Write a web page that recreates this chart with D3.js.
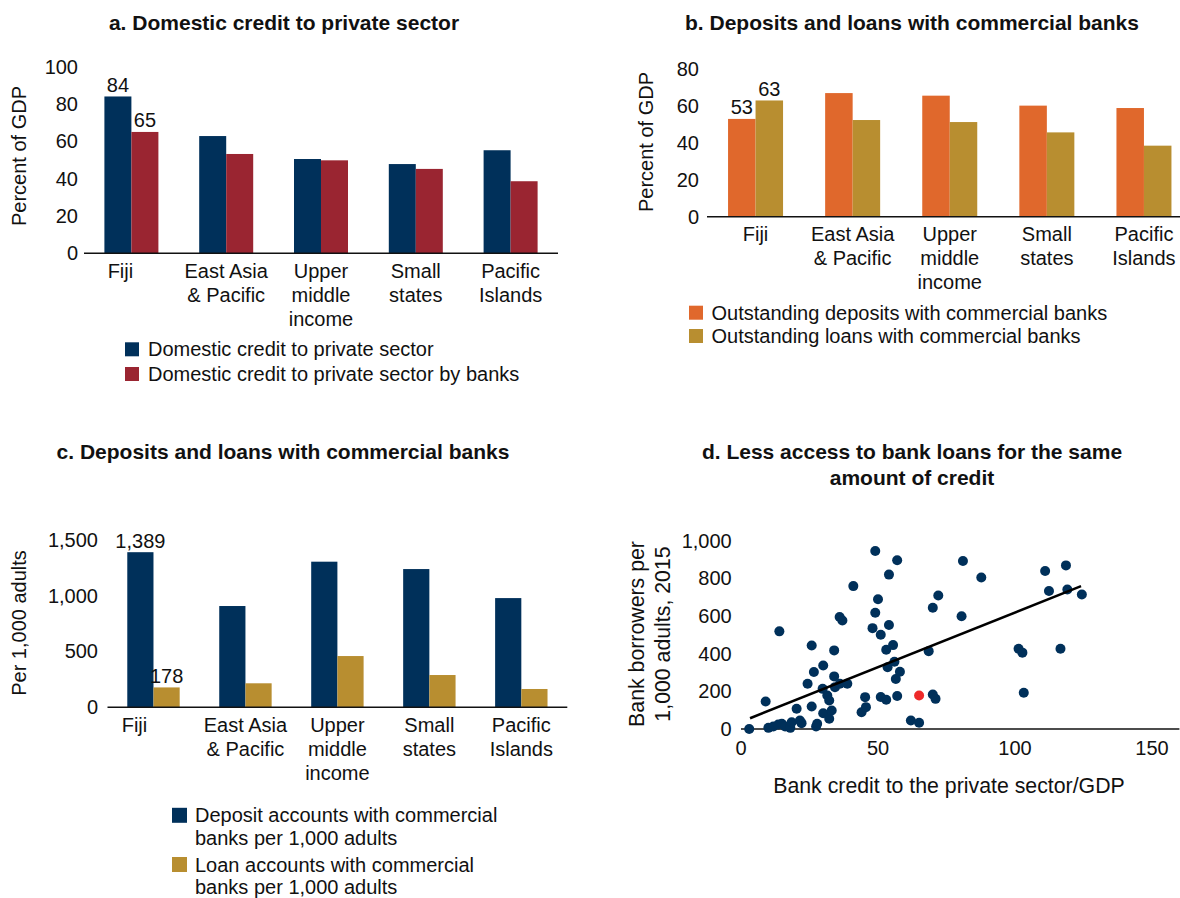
<!DOCTYPE html>
<html>
<head>
<meta charset="utf-8">
<script src="https://cdn.jsdelivr.net/npm/d3@7"></script>
<style>
  html, body { margin: 0; padding: 0; background: #fff; }
  svg { display: block; font-family: "Liberation Sans", Arial, Helvetica, sans-serif; }
</style>
</head>
<body>
<svg id="chart" width="1180" height="898"></svg>
<script>
// ---------------- DATA ----------------
const categoryLines = [["Fiji"], ["East Asia", "& Pacific"], ["Upper", "middle", "income"], ["Small", "states"], ["Pacific", "Islands"]];

// Panel a
const creditPrivate = [84, 62.8, 50.5, 47.8, 55.2];
const creditPrivateBanks = [65, 53.2, 49.8, 45.2, 38.6];
const ticksA = [0, 20, 40, 60, 80, 100];
const legendA = ["Domestic credit to private sector", "Domestic credit to private sector by banks"];

// Panel b
const depositsGDP = [53, 67, 65.6, 60.2, 58.9];
const loansGDP = [63, 52.4, 51.3, 45.7, 38.5];
const ticksB = [0, 20, 40, 60, 80];
const legendB = ["Outstanding deposits with commercial banks", "Outstanding loans with commercial banks"];

// Panel c
const depositAccounts = [1389, 907, 1304, 1238, 978];
const loanAccounts = [178, 215, 459, 289, 164];
const ticksC = [0, 500, 1000, 1500];
const legendC = [["Deposit accounts with commercial", "banks per 1,000 adults"], ["Loan accounts with commercial", "banks per 1,000 adults"]];

// Panel d
const scatterX = [3, 9, 10, 11.8, 13.6, 14.9, 16.1, 18, 18.5, 21.5, 22.1, 27.4, 27.8, 14, 20.3, 25.8, 24.3, 25.8, 26.6, 30,
  29.8, 31.5, 32.2, 30, 32.2, 33.1, 34, 34, 34.3, 36.1, 38.8, 36, 37, 41, 44, 45.6, 45.3, 48, 49, 49,
  50, 51, 51, 53, 53, 54, 54, 53.5, 55.5, 56, 57, 56.5, 58, 57, 62, 65, 68.5, 70, 70, 71,
  72, 80.5, 81, 87.7, 101.3, 102.7, 103.2, 111, 112.4, 116.6, 118.6, 119.1, 124.4];
const scatterY = [0, 146, 6, 13, 24, 28, 13, 6, 36, 45, 31, 13, 28, 518, 107, 119, 240, 443, 302, 337,
  213, 178, 151, 84, 54, 98, 279, 417, 222, 240, 240, 594, 576, 758, 89, 116, 169, 535, 617, 944,
  688, 500, 170, 155, 420, 819, 552, 328, 445, 357, 895, 265, 304, 175, 45, 33, 413, 643, 183, 160,
  708, 598, 891, 804, 426, 405, 192, 838, 732, 426, 868, 740, 714];
const fijiPoint = [65, 178];
const trendSlope = 5.8;
const trendIntercept = 38;
const trendRange = [3.3, 124.1];
const ticksDx = [0, 50, 100, 150];
const ticksDy = [0, 200, 400, 600, 800, 1000];

// ---------------- STYLE ----------------
const NAVY = "#00305a";
const RED = "#9a2531";
const ORANGE = "#e0682c";
const GOLD = "#b88e30";
const DOTRED = "#ee2a2a";
const FS = 20;
const TFS = 21;
const DFS = 21.3;

const svg = d3.select("#chart");
svg.append("rect").attr("width", 1180).attr("height", 898).attr("fill", "#fff");

function title(lines, cx, y0) {
  lines.forEach((t, i) => {
    svg.append("text").attr("x", cx).attr("y", y0 + i * 26)
      .attr("text-anchor", "middle").attr("dominant-baseline", "central")
      .attr("font-weight", "bold").attr("font-size", TFS).attr("fill", "#111").text(t);
  });
}

function barPanel(o) {
  const g = svg.append("g");
  const x = d3.scaleBand().domain(d3.range(categoryLines.length)).range(o.xRange);
  const y = d3.scaleLinear().domain([0, o.max]).range([o.yZero, o.yTop]);
  // y tick labels
  g.selectAll(".yt").data(o.ticks).join("text")
    .attr("x", o.xRange[0] - o.tickGap).attr("y", d => y(d))
    .attr("text-anchor", "end").attr("dominant-baseline", "central")
    .attr("font-size", FS).attr("fill", "#111").text(d => d3.format(",")(d));
  // bars
  o.series.forEach((s, si) => {
    g.selectAll(".b" + si).data(s).join("rect")
      .attr("x", (d, i) => x(i) + x.bandwidth() / 2 - o.bw + si * o.bw)
      .attr("y", d => y(d)).attr("width", o.bw).attr("height", d => y(0) - y(d))
      .attr("fill", o.colors[si]);
  });
  // data labels for Fiji
  o.series.forEach((s, si) => {
    g.append("text")
      .attr("x", x(0) + x.bandwidth() / 2 - o.bw + si * o.bw + o.bw / 2)
      .attr("y", y(s[0]) - 11.5)
      .attr("text-anchor", "middle").attr("dominant-baseline", "central")
      .attr("font-size", FS).attr("fill", "#111").text(d3.format(",")(Math.round(s[0])));
  });
  // baseline
  g.append("line").attr("x1", o.xRange[0]).attr("x2", o.xRange[1])
    .attr("y1", y(0)).attr("y2", y(0)).attr("stroke", "#111").attr("stroke-width", 1.5);
  // category labels
  categoryLines.forEach((lines, i) => {
    lines.forEach((t, li) => {
      g.append("text").attr("x", x(i) + x.bandwidth() / 2 + (i === 0 ? o.fijiDx : 0))
        .attr("y", y(0) + 17.5 + li * 24)
        .attr("text-anchor", "middle").attr("dominant-baseline", "central")
        .attr("font-size", FS).attr("fill", "#111").text(t);
    });
  });
  // y axis title
  g.append("text").attr("transform", `translate(${o.yLabelX},${o.yLabelY}) rotate(-90)`)
    .attr("text-anchor", "middle").attr("dominant-baseline", "central")
    .attr("font-size", FS).attr("fill", "#111").text(o.yLabel);
  // legend
  o.legend.forEach((item, k) => {
    const lines = Array.isArray(item) ? item : [item];
    const cy = o.legY[k];
    g.append("rect").attr("x", o.legX).attr("y", cy - o.legSize / 2)
      .attr("width", o.legSize).attr("height", o.legSize).attr("fill", o.colors[k]);
    lines.forEach((t, li) => {
      g.append("text").attr("x", o.legX + o.legSize + o.legGap).attr("y", cy + li * o.legLine)
        .attr("dominant-baseline", "central").attr("font-size", FS).attr("fill", "#111").text(t);
    });
  });
}

// Panel a
title(["a. Domestic credit to private sector"], 284, 22);
barPanel({
  xRange: [84, 558], yZero: 253.3, yTop: 66.6, max: 100, ticks: ticksA, tickGap: 6,
  series: [creditPrivate, creditPrivateBanks], colors: [NAVY, RED], bw: 27, fijiDx: -11,
  yLabel: "Percent of GDP", yLabelX: 18.5, yLabelY: 156,
  legend: legendA, legX: 125, legY: [349.3, 374], legSize: 14, legGap: 9, legLine: 24
});

// Panel b
title(["b. Deposits and loans with commercial banks"], 912, 22);
barPanel({
  xRange: [707, 1192.5], yZero: 216.7, yTop: 69.1, max: 80, ticks: ticksB, tickGap: 8,
  series: [depositsGDP, loansGDP], colors: [ORANGE, GOLD], bw: 27.5, fijiDx: 0,
  yLabel: "Percent of GDP", yLabelX: 646, yLabelY: 142,
  legend: legendB, legX: 689, legY: [312.7, 336], legSize: 14, legGap: 8.5, legLine: 24
});

// Panel c
title(["c. Deposits and loans with commercial banks"], 283, 451);
barPanel({
  xRange: [107.5, 567.3], yZero: 707.3, yTop: 539.8, max: 1500, ticks: ticksC, tickGap: 9.5,
  series: [depositAccounts, loanAccounts], colors: [NAVY, GOLD], bw: 26.2, fijiDx: -19,
  yLabel: "Per 1,000 adults", yLabelX: 18.5, yLabelY: 623,
  legend: legendC, legX: 172, legY: [815.3, 864.5], legSize: 15, legGap: 8, legLine: 22.5
});

// Panel d
title(["d. Less access to bank loans for the same", "amount of credit"], 912, 451);
{
  const g = svg.append("g");
  const x = d3.scaleLinear().domain([0, 160]).range([741, 1179.4]);
  const y = d3.scaleLinear().domain([0, 1000]).range([729, 540.5]);
  g.selectAll(".yt").data(ticksDy).join("text")
    .attr("x", 731.7).attr("y", d => y(d))
    .attr("text-anchor", "end").attr("dominant-baseline", "central")
    .attr("font-size", FS).attr("fill", "#111").text(d => d3.format(",")(d));
  g.selectAll(".xt").data(ticksDx).join("text")
    .attr("x", d => x(d)).attr("y", 748)
    .attr("text-anchor", "middle").attr("dominant-baseline", "central")
    .attr("font-size", FS).attr("fill", "#111").text(d => d);
  g.append("line").attr("x1", x(0)).attr("x2", x(160)).attr("y1", y(0)).attr("y2", y(0))
    .attr("stroke", "#111").attr("stroke-width", 1.5);
  g.selectAll(".dot").data(scatterX.map((v, i) => [v, scatterY[i]])).join("circle")
    .attr("cx", d => x(d[0])).attr("cy", d => y(d[1])).attr("r", 5).attr("fill", NAVY);
  g.append("line")
    .attr("x1", x(trendRange[0])).attr("y1", y(trendIntercept + trendSlope * trendRange[0]))
    .attr("x2", x(trendRange[1])).attr("y2", y(trendIntercept + trendSlope * trendRange[1]))
    .attr("stroke", "#000").attr("stroke-width", 2.5);
  g.append("circle").attr("cx", x(fijiPoint[0])).attr("cy", y(fijiPoint[1])).attr("r", 5).attr("fill", DOTRED);
  g.append("text").attr("x", 949).attr("y", 786)
    .attr("text-anchor", "middle").attr("dominant-baseline", "central")
    .attr("font-size", DFS).attr("fill", "#111").text("Bank credit to the private sector/GDP");
  [["Bank borrowers per", 637], ["1,000 adults, 2015", 663]].forEach(([t, lx]) => {
    g.append("text").attr("transform", `translate(${lx},634) rotate(-90)`)
      .attr("text-anchor", "middle").attr("dominant-baseline", "central")
      .attr("font-size", DFS).attr("fill", "#111").text(t);
  });
}
</script>
</body>
</html>
